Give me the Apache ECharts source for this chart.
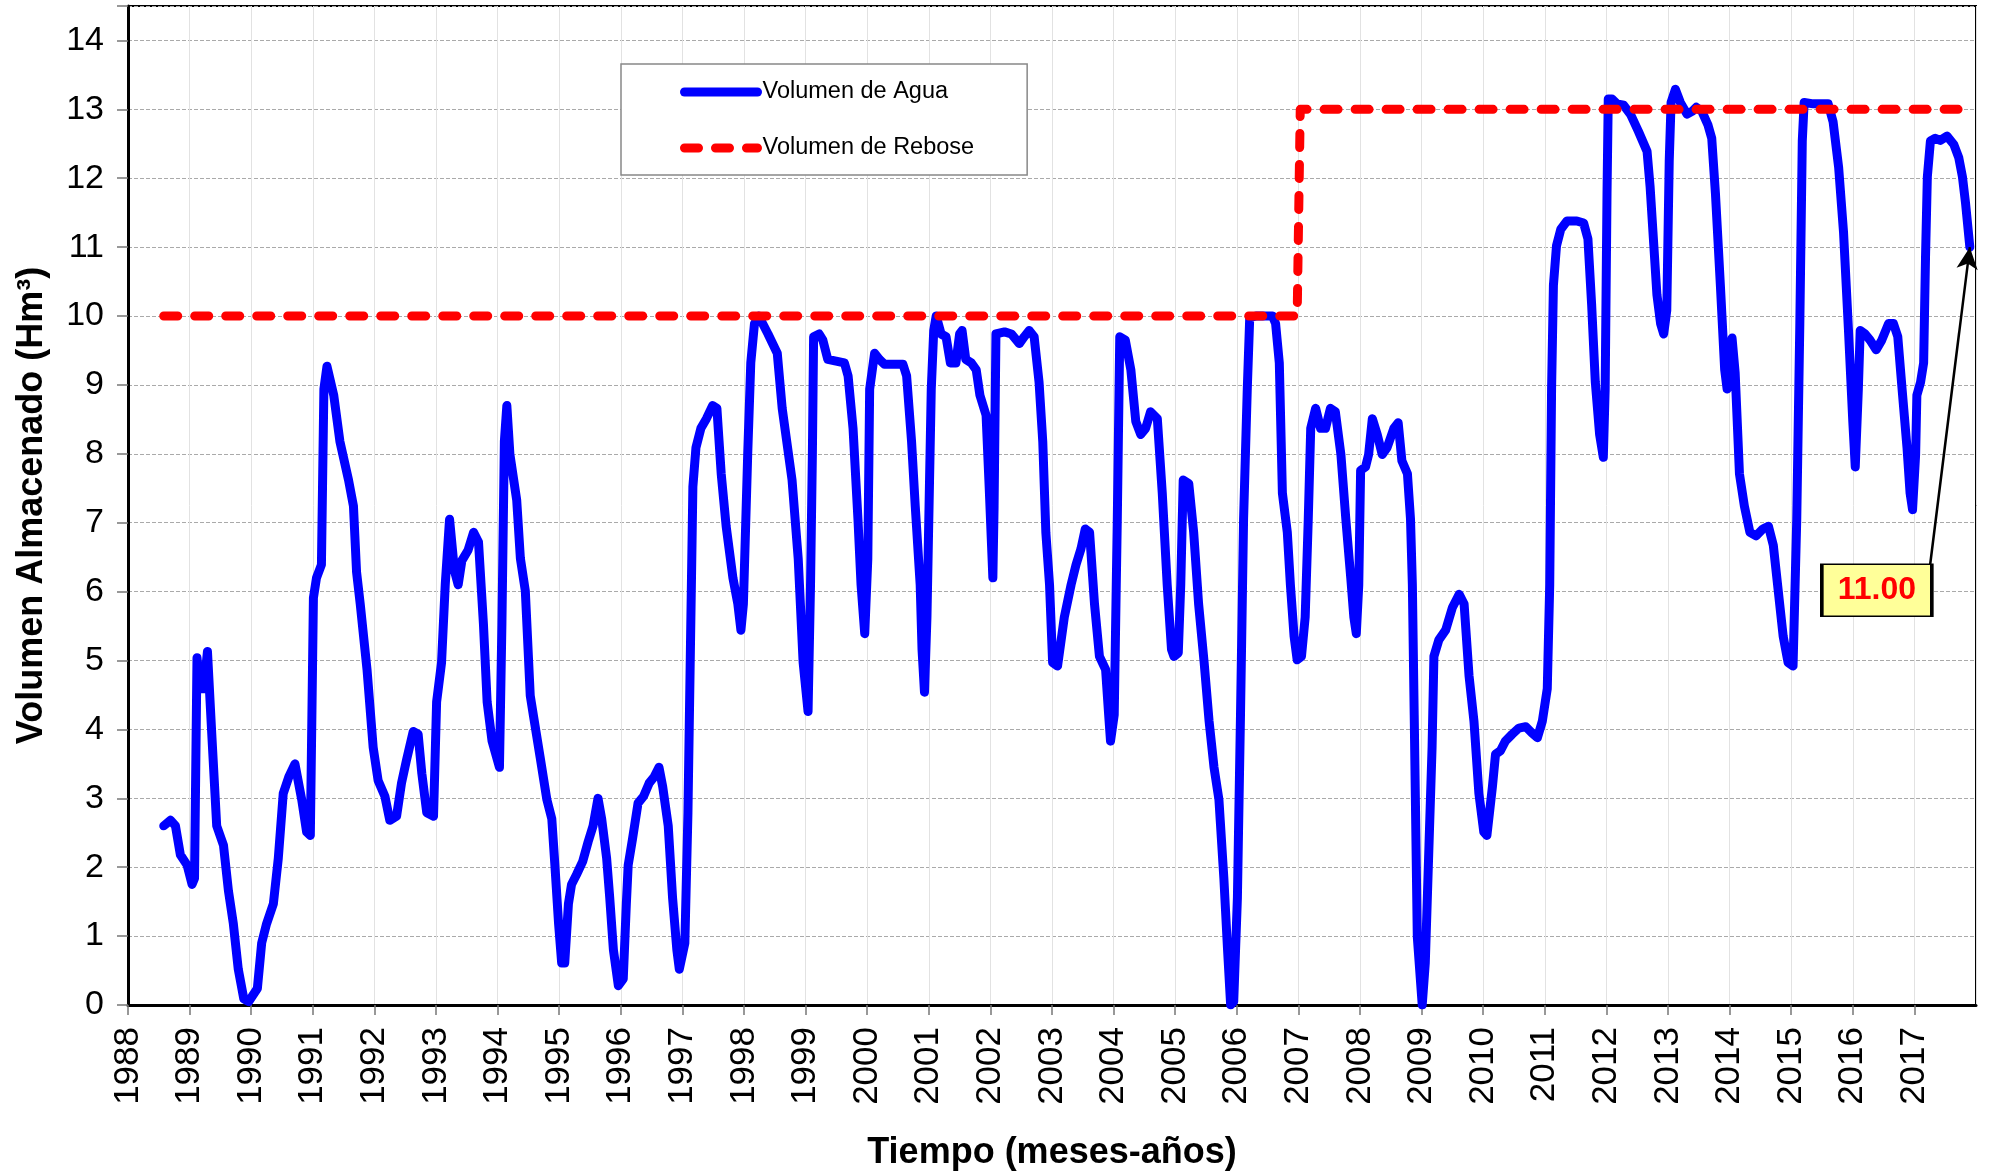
<!DOCTYPE html>
<html>
<head>
<meta charset="utf-8">
<title>Volumen Almacenado</title>
<script src="https://cdn.jsdelivr.net/npm/echarts@6/dist/echarts.min.js"></script>
<style>
  html, body { margin: 0; padding: 0; background: #fff; }
  #chart { width: 1989px; height: 1176px; }
</style>
</head>
<body>
<div id="chart"></div>
<script>
// eje x: años (decimales), eje y: Hm3
const aguaX = [
  1988.58, 1988.69, 1988.77, 1988.85, 1988.96, 1989.04, 1989.08, 1989.12, 1989.17, 1989.23,
  1989.29, 1989.36, 1989.44, 1989.55, 1989.63, 1989.71, 1989.79, 1989.88, 1989.96, 1990.10,
  1990.17, 1990.25, 1990.36, 1990.44, 1990.52, 1990.61, 1990.71, 1990.82, 1990.90, 1990.96,
  1991.01, 1991.06, 1991.14, 1991.18, 1991.23, 1991.34, 1991.44, 1991.58, 1991.66, 1991.71,
  1991.77, 1991.88, 1991.98, 1992.06, 1992.17, 1992.25, 1992.36, 1992.44, 1992.52, 1992.63,
  1992.71, 1992.77, 1992.85, 1992.96, 1993.01, 1993.09, 1993.15, 1993.22, 1993.30, 1993.36,
  1993.42, 1993.52, 1993.61, 1993.69, 1993.77, 1993.83, 1993.91, 1994.03, 1994.07, 1994.11,
  1994.15, 1994.20, 1994.31, 1994.37, 1994.45, 1994.53, 1994.58, 1994.69, 1994.80, 1994.88,
  1994.93, 1994.99, 1995.04, 1995.09, 1995.15, 1995.20, 1995.28, 1995.38, 1995.47, 1995.55,
  1995.63, 1995.69, 1995.77, 1995.82, 1995.88, 1995.96, 1996.04, 1996.09, 1996.12, 1996.19,
  1996.28, 1996.37, 1996.46, 1996.54, 1996.62, 1996.68, 1996.77, 1996.84, 1996.91, 1996.95,
  1997.04, 1997.09, 1997.13, 1997.17, 1997.22, 1997.30, 1997.39, 1997.49, 1997.56, 1997.63,
  1997.71, 1997.82, 1997.90, 1997.95, 1997.99, 1998.06, 1998.11, 1998.17, 1998.24, 1998.39,
  1998.54, 1998.62, 1998.78, 1998.88, 1998.96, 1999.04, 1999.08, 1999.11, 1999.13, 1999.22,
  1999.28, 1999.36, 1999.63, 1999.69, 1999.77, 1999.85, 1999.90, 1999.96, 2000.01, 2000.04,
  2000.12, 2000.20, 2000.28, 2000.58, 2000.64, 2000.72, 2000.78, 2000.86, 2000.89, 2000.93,
  2000.97, 2001.04, 2001.08, 2001.12, 2001.20, 2001.28, 2001.35, 2001.44, 2001.50, 2001.54,
  2001.60, 2001.69, 2001.77, 2001.83, 2001.93, 2001.98, 2002.04, 2002.06, 2002.09, 2002.23,
  2002.34, 2002.47, 2002.55, 2002.63, 2002.71, 2002.79, 2002.85, 2002.90, 2002.96, 2003.01,
  2003.09, 2003.20, 2003.31, 2003.39, 2003.47, 2003.54, 2003.61, 2003.69, 2003.77, 2003.87,
  2003.92, 2003.95, 2004.01, 2004.06, 2004.10, 2004.19, 2004.28, 2004.36, 2004.44, 2004.52,
  2004.60, 2004.71, 2004.79, 2004.87, 2004.94, 2004.98, 2005.05, 2005.09, 2005.13, 2005.22,
  2005.30, 2005.38, 2005.47, 2005.55, 2005.63, 2005.71, 2005.79, 2005.85, 2005.90, 2005.95,
  2006.01, 2006.06, 2006.11, 2006.17, 2006.21, 2006.31, 2006.58, 2006.63, 2006.69, 2006.74,
  2006.82, 2006.87, 2006.93, 2006.98, 2007.05, 2007.11, 2007.16, 2007.20, 2007.28, 2007.36,
  2007.44, 2007.52, 2007.60, 2007.69, 2007.77, 2007.85, 2007.90, 2007.94, 2007.98, 2008.01,
  2008.09, 2008.14, 2008.20, 2008.28, 2008.36, 2008.44, 2008.55, 2008.62, 2008.68, 2008.77,
  2008.82, 2008.85, 2008.88, 2008.93, 2009.01, 2009.06, 2009.12, 2009.17, 2009.20, 2009.28,
  2009.39, 2009.50, 2009.61, 2009.69, 2009.77, 2009.85, 2009.93, 2010.01, 2010.06, 2010.15,
  2010.20, 2010.28, 2010.36, 2010.47, 2010.58, 2010.69, 2010.79, 2010.88, 2010.96, 2011.04,
  2011.08, 2011.11, 2011.14, 2011.19, 2011.26, 2011.36, 2011.52, 2011.63, 2011.70, 2011.76,
  2011.82, 2011.89, 2011.95, 2011.98, 2012.01, 2012.03, 2012.09, 2012.17, 2012.28, 2012.39,
  2012.52, 2012.66, 2012.71, 2012.77, 2012.82, 2012.88, 2012.93, 2012.98, 2013.02, 2013.05,
  2013.12, 2013.20, 2013.31, 2013.39, 2013.46, 2013.55, 2013.65, 2013.71, 2013.77, 2013.85,
  2013.92, 2013.96, 2014.01, 2014.04, 2014.09, 2014.16, 2014.24, 2014.33, 2014.43, 2014.54,
  2014.63, 2014.71, 2014.79, 2014.87, 2014.95, 2015.03, 2015.09, 2015.14, 2015.18, 2015.21,
  2015.36, 2015.60, 2015.68, 2015.77, 2015.85, 2015.93, 2016.00, 2016.04, 2016.09, 2016.12,
  2016.20, 2016.28, 2016.38, 2016.47, 2016.58, 2016.66, 2016.73, 2016.80, 2016.88, 2016.93,
  2016.97, 2017.02, 2017.04, 2017.10, 2017.15, 2017.18, 2017.21, 2017.26, 2017.34, 2017.42,
  2017.53, 2017.64, 2017.72, 2017.78, 2017.83, 2017.90
]
const aguaY = [
  2.60, 2.68, 2.60, 2.18, 2.03, 1.75, 1.84, 5.04, 4.59, 4.59,
  5.13, 3.93, 2.60, 2.32, 1.66, 1.18, 0.52, 0.09, 0.05, 0.24,
  0.90, 1.18, 1.47, 2.13, 3.07, 3.31, 3.50, 2.98, 2.51, 2.46,
  5.91, 6.20, 6.39, 8.94, 9.27, 8.85, 8.18, 7.62, 7.24, 6.29,
  5.82, 4.87, 3.74, 3.26, 3.03, 2.68, 2.74, 3.22, 3.55, 3.97,
  3.93, 3.36, 2.79, 2.74, 4.40, 4.97, 6.10, 7.05, 6.30, 6.10,
  6.45, 6.60, 6.86, 6.72, 5.53, 4.40, 3.83, 3.45, 5.53, 8.18,
  8.70, 7.99, 7.33, 6.48, 6.01, 4.49, 4.21, 3.60, 2.98, 2.70,
  2.03, 1.18, 0.61, 0.61, 1.47, 1.75, 1.89, 2.08, 2.37, 2.60,
  3.00, 2.70, 2.13, 1.56, 0.80, 0.28, 0.38, 1.47, 2.03, 2.41,
  2.93, 3.03, 3.22, 3.31, 3.45, 3.17, 2.60, 1.56, 0.80, 0.52,
  0.90, 2.79, 5.16, 7.52, 8.09, 8.37, 8.51, 8.70, 8.66, 7.71,
  6.95, 6.20, 5.82, 5.44, 5.82, 7.99, 9.32, 9.89, 10.00, 9.74,
  9.46, 8.66, 7.62, 6.48, 4.97, 4.26, 6.10, 7.99, 9.70, 9.74,
  9.65, 9.37, 9.32, 9.13, 8.37, 7.05, 6.10, 5.39, 6.48, 8.94,
  9.46, 9.37, 9.30, 9.30, 9.13, 8.18, 7.24, 6.10, 5.16, 4.54,
  5.63, 8.94, 9.79, 10.00, 9.74, 9.70, 9.32, 9.32, 9.74, 9.79,
  9.37, 9.32, 9.22, 8.85, 8.56, 7.52, 6.20, 7.24, 9.74, 9.77,
  9.74, 9.60, 9.70, 9.79, 9.70, 9.04, 8.18, 6.86, 6.10, 4.97,
  4.92, 5.63, 6.10, 6.39, 6.62, 6.91, 6.86, 5.82, 5.06, 4.87,
  4.21, 3.83, 4.21, 7.05, 9.70, 9.65, 9.22, 8.47, 8.28, 8.37,
  8.61, 8.51, 7.43, 6.10, 5.16, 5.06, 5.11, 6.10, 7.62, 7.57,
  6.86, 5.82, 4.97, 4.12, 3.45, 2.98, 1.84, 0.80, 0.00, 0.05,
  1.56, 4.21, 7.05, 8.94, 9.98, 10.00, 10.00, 9.89, 9.32, 7.43,
  6.86, 6.10, 5.35, 5.01, 5.06, 5.63, 7.05, 8.37, 8.66, 8.37,
  8.37, 8.66, 8.61, 7.99, 7.05, 6.20, 5.63, 5.39, 6.10, 7.76,
  7.81, 7.99, 8.51, 8.28, 7.99, 8.09, 8.37, 8.45, 7.90, 7.71,
  7.05, 6.10, 4.21, 0.99, 0.00, 0.61, 2.32, 3.74, 5.06, 5.30,
  5.44, 5.77, 5.96, 5.82, 4.78, 4.12, 3.07, 2.51, 2.46, 3.17,
  3.64, 3.69, 3.83, 3.93, 4.02, 4.04, 3.95, 3.88, 4.12, 4.59,
  6.10, 8.94, 10.45, 11.02, 11.26, 11.38, 11.38, 11.35, 11.12, 10.17,
  9.04, 8.28, 7.95, 8.94, 11.78, 13.15, 13.15, 13.08, 13.06, 12.93,
  12.68, 12.39, 11.87, 11.02, 10.31, 9.89, 9.74, 10.08, 12.25, 13.10,
  13.29, 13.10, 12.93, 12.97, 13.03, 12.97, 12.77, 12.58, 11.78, 10.45,
  9.22, 8.94, 9.32, 9.68, 9.18, 7.71, 7.24, 6.86, 6.81, 6.91,
  6.95, 6.67, 6.01, 5.35, 4.97, 4.92, 7.05, 9.89, 12.54, 13.10,
  13.08, 13.08, 12.82, 12.16, 11.21, 9.79, 8.47, 7.81, 8.94, 9.79,
  9.74, 9.65, 9.51, 9.65, 9.89, 9.89, 9.70, 8.94, 8.09, 7.43,
  7.19, 7.99, 8.85, 9.04, 9.32, 10.83, 12.02, 12.54, 12.58, 12.55,
  12.61, 12.49, 12.30, 12.02, 11.64, 11.00
]
const reboseX = [1988.58, 2006.98, 2007.03, 2017.80]
const reboseY = [10, 10, 13, 13]

const yearMin = 1988
const yearMax = 2018
const volMax = 14.5

// cuadro de la anotación y flecha al último valor
const annoText = '11.00'
const annoBox = [2016.39, 6.02]
const annoFrom = [2017.25, 6.35]
const annoTo = [2017.9, 11.0]

const FONT = '"Liberation Sans", Arial, sans-serif'

const aguaData = aguaX.map((x, i) => [x, aguaY[i]])
const reboseData = reboseX.map((x, i) => [x, reboseY[i]])

const chart = echarts.init(document.getElementById('chart'))

const option = {
  animation: false,
  backgroundColor: '#fff',
  textStyle: { fontFamily: FONT },
  grid: {
    left: 128,
    right: 13,
    top: 6,
    bottom: 171,
    show: true,
    borderColor: '#000',
    borderWidth: 2,
    backgroundColor: 'transparent'
  },
  legend: {
    orient: 'vertical',
    left: 621,
    top: 64,
    padding: [16, 53, 15, 59],
    itemWidth: 73,
    itemHeight: 24,
    itemGap: 32,
    borderColor: '#888',
    borderWidth: 1.5,
    backgroundColor: '#fff',
    // sin círculo en el icono, solo la línea
    itemStyle: { opacity: 0 },
    lineStyle: { width: 9, cap: 'round' },
    textStyle: { fontSize: 23.5, color: '#000', fontFamily: FONT },
    data: ['Volumen de Agua', 'Volumen de Rebose']
  },
  xAxis: {
    type: 'value',
    min: yearMin,
    max: yearMax,
    interval: 1,
    name: 'Tiempo (meses-años)',
    nameLocation: 'middle',
    nameGap: 130,
    nameTextStyle: { fontSize: 36, fontWeight: 'bold', color: '#000', fontFamily: FONT },
    axisLine: { lineStyle: { color: '#000', width: 3 } },
    axisTick: { show: true, length: 10, lineStyle: { color: '#777', width: 1.5 } },
    axisLabel: {
      rotate: 90,
      margin: 22,
      fontSize: 35,
      color: '#000',
      fontFamily: FONT,
      showMaxLabel: false,
      formatter: v => String(v)
    },
    splitLine: { show: true, lineStyle: { color: '#e2e2e2', width: 1 } }
  },
  yAxis: {
    type: 'value',
    min: 0,
    max: volMax,
    interval: 1,
    name: 'Volumen Almacenado (Hm³)',
    nameLocation: 'middle',
    nameGap: 78,
    nameTextStyle: { fontSize: 36, fontWeight: 'bold', color: '#000', fontFamily: FONT },
    axisLine: { show: true, lineStyle: { color: '#000', width: 3 } },
    axisTick: { show: true, length: 11, lineStyle: { color: '#777', width: 1.5 } },
    axisLabel: {
      margin: 24,
      fontSize: 34,
      color: '#000',
      fontFamily: FONT,
      formatter: v => (Number.isInteger(v) ? String(v) : '')
    },
    splitLine: { show: true, lineStyle: { color: '#aaa', width: 1, type: [4, 2] } }
  },
  series: [
    {
      name: 'Volumen de Agua',
      type: 'line',
      data: aguaData,
      showSymbol: false,
      symbol: 'none',
      smooth: false,
      lineStyle: { color: '#0000ff', width: 9, cap: 'round', join: 'round' },
      itemStyle: { color: '#0000ff' },
      z: 3,
      markLine: {
        silent: true,
        symbol: ['none', 'arrow'],
        symbolSize: [16, 22],
        label: { show: false },
        lineStyle: { color: '#000', width: 2.5, type: 'solid' },
        data: [[{ coord: annoFrom }, { coord: annoTo }]],
        z: 5
      },
      markPoint: {
        silent: true,
        symbol: 'rect',
        symbolSize: [110, 52],
        itemStyle: { color: '#ffff99', borderColor: '#000', borderWidth: 2.5 },
        label: {
          show: true,
          formatter: annoText,
          color: '#ff0000',
          fontSize: 32,
          fontWeight: 'bold',
          fontFamily: FONT
        },
        data: [{ coord: annoBox, value: annoText }],
        z: 6
      }
    },
    {
      name: 'Volumen de Rebose',
      type: 'line',
      data: reboseData,
      showSymbol: false,
      symbol: 'none',
      lineStyle: { color: '#ff0000', width: 9, type: [14, 17], cap: 'round', join: 'round' },
      itemStyle: { color: '#ff0000' },
      z: 4
    }
  ]
}

chart.setOption(option)
</script>
</body>
</html>
